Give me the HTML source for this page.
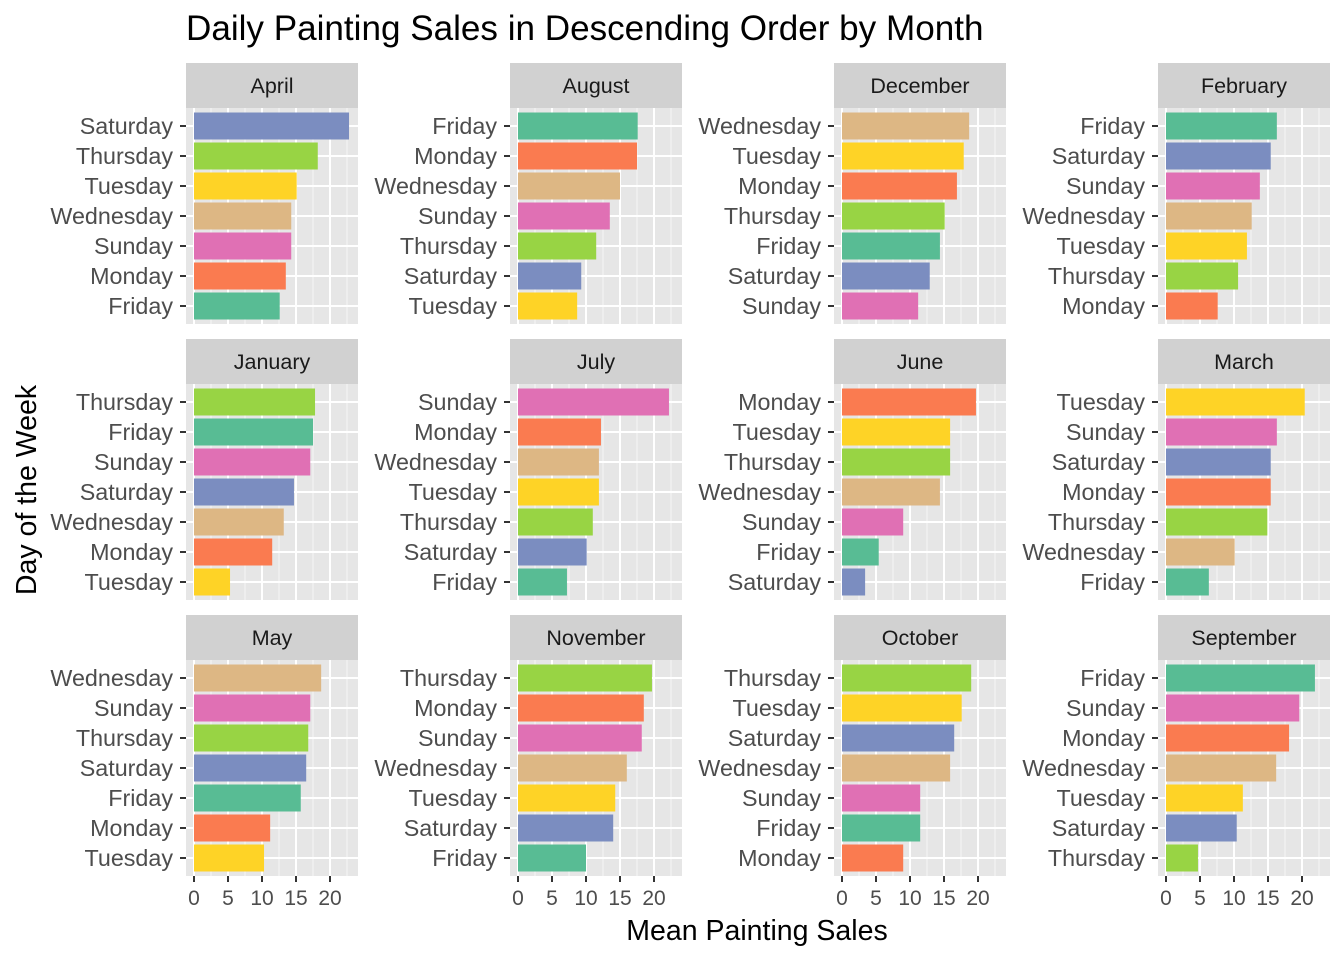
<!DOCTYPE html>
<html><head><meta charset="utf-8"><style>body{margin:0;background:#fff}svg{display:block}</style></head>
<body>
<svg id="s" width="1344" height="960" xmlns="http://www.w3.org/2000/svg" font-family="Liberation Sans, sans-serif"></svg>
<script>
const C={Friday:"#58BC94",Monday:"#FA7B50",Tuesday:"#FED326",Wednesday:"#DDB784",Thursday:"#98D444",Saturday:"#7B8DC0",Sunday:"#E070B4"};
const P=[
["April",[["Saturday",22.8],["Thursday",18.2],["Tuesday",15.1],["Wednesday",14.3],["Sunday",14.3],["Monday",13.5],["Friday",12.6]]],
["August",[["Friday",17.6],["Monday",17.5],["Wednesday",15],["Sunday",13.5],["Thursday",11.5],["Saturday",9.3],["Tuesday",8.7]]],
["December",[["Wednesday",18.7],["Tuesday",17.9],["Monday",16.9],["Thursday",15.1],["Friday",14.4],["Saturday",12.9],["Sunday",11.2]]],
["February",[["Friday",16.3],["Saturday",15.4],["Sunday",13.8],["Wednesday",12.6],["Tuesday",11.9],["Thursday",10.6],["Monday",7.6]]],
["January",[["Thursday",17.8],["Friday",17.5],["Sunday",17.1],["Saturday",14.7],["Wednesday",13.2],["Monday",11.5],["Tuesday",5.3]]],
["July",[["Sunday",22.2],["Monday",12.2],["Wednesday",11.9],["Tuesday",11.9],["Thursday",11],["Saturday",10.1],["Friday",7.2]]],
["June",[["Monday",19.7],["Tuesday",15.9],["Thursday",15.9],["Wednesday",14.4],["Sunday",9],["Friday",5.4],["Saturday",3.4]]],
["March",[["Tuesday",20.4],["Sunday",16.3],["Saturday",15.4],["Monday",15.4],["Thursday",14.9],["Wednesday",10.1],["Friday",6.3]]],
["May",[["Wednesday",18.7],["Sunday",17.1],["Thursday",16.8],["Saturday",16.5],["Friday",15.7],["Monday",11.2],["Tuesday",10.3]]],
["November",[["Thursday",19.7],["Monday",18.5],["Sunday",18.2],["Wednesday",16],["Tuesday",14.3],["Saturday",14],["Friday",10]]],
["October",[["Thursday",19],["Tuesday",17.6],["Saturday",16.5],["Wednesday",15.9],["Sunday",11.5],["Friday",11.5],["Monday",9]]],
["September",[["Friday",21.9],["Sunday",19.6],["Monday",18.1],["Wednesday",16.2],["Tuesday",11.3],["Saturday",10.4],["Thursday",4.7]]]];
let h='<text x="186" y="40" font-size="35.1" fill="#000">Daily Painting Sales in Descending Order by Month</text>';
const rows=[108,384,660];
P.forEach((p,i)=>{const c=i%4,r=Math.floor(i/4);const L=186+c*324,o=L+8,T=rows[r];
h+=`<rect x="${L}" y="${T-45}" width="172" height="45" fill="#D1D1D1"/><text x="${L+86}" y="${T-15}" font-size="21.5" text-anchor="middle" fill="#1A1A1A">${p[0]}</text>`;
h+=`<rect x="${L}" y="${T}" width="172" height="216" fill="#E6E6E6"/>`;
for(let v=2.5;v<25;v+=5)h+=`<line x1="${o+v*6.8}" x2="${o+v*6.8}" y1="${T}" y2="${T+216}" stroke="#F5F5F5" stroke-width="1"/>`;
for(let v=0;v<=20;v+=5)h+=`<line x1="${o+v*6.8}" x2="${o+v*6.8}" y1="${T}" y2="${T+216}" stroke="#fff" stroke-width="2"/>`;
p[1].forEach((d,k)=>{const y=T+18+30*k;
h+=`<line x1="${L}" x2="${L+172}" y1="${y}" y2="${y}" stroke="#fff" stroke-width="2"/>`;
h+=`<rect x="${o}" y="${y-13.5}" width="${d[1]*6.8}" height="27" fill="${C[d[0]]}"/>`;
h+=`<line x1="${L-6}" x2="${L}" y1="${y}" y2="${y}" stroke="#333" stroke-width="2"/><text x="${L-13}" y="${y+8}" font-size="23.3" text-anchor="end" fill="#4D4D4D">${d[0]}</text>`;});
if(r==2){for(let v=0;v<=20;v+=5)h+=`<line x1="${o+v*6.8}" x2="${o+v*6.8}" y1="876" y2="882" stroke="#333" stroke-width="2"/><text x="${o+v*6.8}" y="905" font-size="21" text-anchor="middle" fill="#4D4D4D">${v}</text>`;}
});
h+='<text x="757" y="940" font-size="28.5" text-anchor="middle">Mean Painting Sales</text>';
h+='<text transform="translate(36,490) rotate(-90)" font-size="28.5" text-anchor="middle">Day of the Week</text>';
document.getElementById('s').innerHTML=h;
</script>
</body></html>
